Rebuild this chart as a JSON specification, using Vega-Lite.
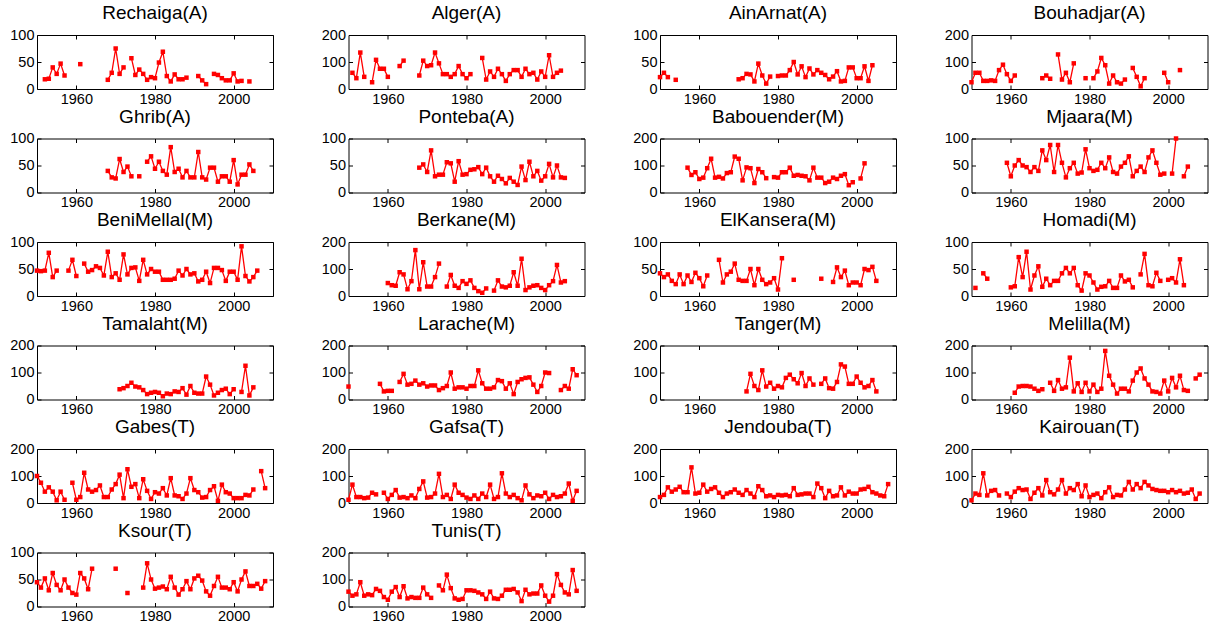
{
"$schema":"https://vega.github.io/schema/vega-lite/v6.json",
"padding":{"left":9,"top":3,"right":0,"bottom":0},
"columns":4,
"spacing":{"row":49.5,"column":75.5},
"bounds":"flush",
"datasets":{
"Rechaiga":[{"yr":1952,"v":18},{"yr":1953,"v":19},{"yr":1954,"v":40},{"yr":1955,"v":28},{"yr":1956,"v":47},{"yr":1957,"v":25},{"yr":1958,"v":null},{"yr":1961,"v":46},{"yr":1962,"v":null},{"yr":1968,"v":17},{"yr":1969,"v":30},{"yr":1970,"v":75},{"yr":1971,"v":28},{"yr":1972,"v":40},{"yr":1973,"v":null},{"yr":1974,"v":57},{"yr":1975,"v":26},{"yr":1976,"v":36},{"yr":1977,"v":28},{"yr":1978,"v":17},{"yr":1979,"v":22},{"yr":1980,"v":20},{"yr":1981,"v":49},{"yr":1982,"v":69},{"yr":1983,"v":24},{"yr":1984,"v":14},{"yr":1985,"v":27},{"yr":1986,"v":18},{"yr":1987,"v":18},{"yr":1988,"v":21},{"yr":1989,"v":null},{"yr":1991,"v":24},{"yr":1992,"v":16},{"yr":1993,"v":9},{"yr":1994,"v":null},{"yr":1995,"v":28},{"yr":1996,"v":26},{"yr":1997,"v":20},{"yr":1998,"v":16},{"yr":1999,"v":16},{"yr":2000,"v":29},{"yr":2001,"v":14},{"yr":2002,"v":15},{"yr":2003,"v":null},{"yr":2004,"v":14}],
"Alger":[{"yr":1951,"v":60},{"yr":1952,"v":40},{"yr":1953,"v":135},{"yr":1954,"v":45},{"yr":1955,"v":null},{"yr":1956,"v":25},{"yr":1957,"v":108},{"yr":1958,"v":75},{"yr":1959,"v":75},{"yr":1960,"v":45},{"yr":1961,"v":null},{"yr":1963,"v":85},{"yr":1964,"v":105},{"yr":1965,"v":null},{"yr":1968,"v":50},{"yr":1969,"v":105},{"yr":1970,"v":85},{"yr":1971,"v":88},{"yr":1972,"v":135},{"yr":1973,"v":95},{"yr":1974,"v":55},{"yr":1975,"v":55},{"yr":1976,"v":45},{"yr":1977,"v":55},{"yr":1978,"v":85},{"yr":1979,"v":55},{"yr":1980,"v":40},{"yr":1981,"v":55},{"yr":1982,"v":null},{"yr":1984,"v":115},{"yr":1985,"v":35},{"yr":1986,"v":65},{"yr":1987,"v":45},{"yr":1988,"v":75},{"yr":1989,"v":55},{"yr":1990,"v":30},{"yr":1991,"v":55},{"yr":1992,"v":70},{"yr":1993,"v":70},{"yr":1994,"v":45},{"yr":1995,"v":75},{"yr":1996,"v":55},{"yr":1997,"v":60},{"yr":1998,"v":35},{"yr":1999,"v":65},{"yr":2000,"v":45},{"yr":2001,"v":125},{"yr":2002,"v":45},{"yr":2003,"v":60},{"yr":2004,"v":68}],
"AinArnat":[{"yr":1950,"v":22},{"yr":1951,"v":30},{"yr":1952,"v":22},{"yr":1953,"v":null},{"yr":1954,"v":17},{"yr":1955,"v":null},{"yr":1970,"v":18},{"yr":1971,"v":20},{"yr":1972,"v":28},{"yr":1973,"v":27},{"yr":1974,"v":14},{"yr":1975,"v":47},{"yr":1976,"v":25},{"yr":1977,"v":10},{"yr":1978,"v":23},{"yr":1979,"v":null},{"yr":1980,"v":24},{"yr":1981,"v":25},{"yr":1982,"v":25},{"yr":1983,"v":35},{"yr":1984,"v":50},{"yr":1985,"v":27},{"yr":1986,"v":42},{"yr":1987,"v":22},{"yr":1988,"v":38},{"yr":1989,"v":27},{"yr":1990,"v":35},{"yr":1991,"v":30},{"yr":1992,"v":26},{"yr":1993,"v":18},{"yr":1994,"v":23},{"yr":1995,"v":33},{"yr":1996,"v":14},{"yr":1997,"v":15},{"yr":1998,"v":40},{"yr":1999,"v":40},{"yr":2000,"v":20},{"yr":2001,"v":20},{"yr":2002,"v":42},{"yr":2003,"v":15},{"yr":2004,"v":44}],
"Bouhadjar":[{"yr":1950,"v":25},{"yr":1951,"v":60},{"yr":1952,"v":60},{"yr":1953,"v":30},{"yr":1954,"v":30},{"yr":1955,"v":32},{"yr":1956,"v":30},{"yr":1957,"v":70},{"yr":1958,"v":90},{"yr":1959,"v":55},{"yr":1960,"v":30},{"yr":1961,"v":50},{"yr":1962,"v":null},{"yr":1968,"v":40},{"yr":1969,"v":50},{"yr":1970,"v":38},{"yr":1971,"v":null},{"yr":1972,"v":128},{"yr":1973,"v":35},{"yr":1974,"v":60},{"yr":1975,"v":25},{"yr":1976,"v":95},{"yr":1977,"v":null},{"yr":1979,"v":40},{"yr":1980,"v":null},{"yr":1981,"v":40},{"yr":1982,"v":65},{"yr":1983,"v":115},{"yr":1984,"v":88},{"yr":1985,"v":20},{"yr":1986,"v":50},{"yr":1987,"v":25},{"yr":1988,"v":20},{"yr":1989,"v":35},{"yr":1990,"v":null},{"yr":1991,"v":78},{"yr":1992,"v":45},{"yr":1993,"v":10},{"yr":1994,"v":40},{"yr":1995,"v":null},{"yr":1999,"v":60},{"yr":2000,"v":25},{"yr":2001,"v":null},{"yr":2003,"v":70}],
"Ghrib":[{"yr":1968,"v":40},{"yr":1969,"v":28},{"yr":1970,"v":26},{"yr":1971,"v":62},{"yr":1972,"v":38},{"yr":1973,"v":48},{"yr":1974,"v":30},{"yr":1975,"v":null},{"yr":1976,"v":30},{"yr":1977,"v":null},{"yr":1978,"v":57},{"yr":1979,"v":67},{"yr":1980,"v":44},{"yr":1981,"v":57},{"yr":1982,"v":40},{"yr":1983,"v":33},{"yr":1984,"v":84},{"yr":1985,"v":38},{"yr":1986,"v":44},{"yr":1987,"v":28},{"yr":1988,"v":40},{"yr":1989,"v":28},{"yr":1990,"v":28},{"yr":1991,"v":75},{"yr":1992,"v":28},{"yr":1993,"v":24},{"yr":1994,"v":46},{"yr":1995,"v":46},{"yr":1996,"v":20},{"yr":1997,"v":30},{"yr":1998,"v":30},{"yr":1999,"v":20},{"yr":2000,"v":60},{"yr":2001,"v":15},{"yr":2002,"v":33},{"yr":2003,"v":33},{"yr":2004,"v":52},{"yr":2005,"v":40}],
"Ponteba":[{"yr":1968,"v":46},{"yr":1969,"v":52},{"yr":1970,"v":38},{"yr":1971,"v":78},{"yr":1972,"v":30},{"yr":1973,"v":33},{"yr":1974,"v":33},{"yr":1975,"v":56},{"yr":1976,"v":54},{"yr":1977,"v":20},{"yr":1978,"v":58},{"yr":1979,"v":33},{"yr":1980,"v":34},{"yr":1981,"v":42},{"yr":1982,"v":43},{"yr":1983,"v":47},{"yr":1984,"v":34},{"yr":1985,"v":46},{"yr":1986,"v":30},{"yr":1987,"v":20},{"yr":1988,"v":31},{"yr":1989,"v":25},{"yr":1990,"v":17},{"yr":1991,"v":27},{"yr":1992,"v":20},{"yr":1993,"v":14},{"yr":1994,"v":48},{"yr":1995,"v":23},{"yr":1996,"v":57},{"yr":1997,"v":30},{"yr":1998,"v":40},{"yr":1999,"v":22},{"yr":2000,"v":30},{"yr":2001,"v":53},{"yr":2002,"v":28},{"yr":2003,"v":50},{"yr":2004,"v":28},{"yr":2005,"v":27}],
"Babouender":[{"yr":1957,"v":92},{"yr":1958,"v":65},{"yr":1959,"v":75},{"yr":1960,"v":50},{"yr":1961,"v":55},{"yr":1962,"v":90},{"yr":1963,"v":125},{"yr":1964,"v":55},{"yr":1965,"v":58},{"yr":1966,"v":52},{"yr":1967,"v":72},{"yr":1968,"v":75},{"yr":1969,"v":133},{"yr":1970,"v":125},{"yr":1971,"v":45},{"yr":1972,"v":93},{"yr":1973,"v":90},{"yr":1974,"v":35},{"yr":1975,"v":87},{"yr":1976,"v":75},{"yr":1977,"v":53},{"yr":1978,"v":null},{"yr":1979,"v":57},{"yr":1980,"v":55},{"yr":1981,"v":75},{"yr":1982,"v":75},{"yr":1983,"v":92},{"yr":1984,"v":62},{"yr":1985,"v":65},{"yr":1986,"v":62},{"yr":1987,"v":60},{"yr":1988,"v":45},{"yr":1989,"v":92},{"yr":1990,"v":55},{"yr":1991,"v":55},{"yr":1992,"v":35},{"yr":1993,"v":40},{"yr":1994,"v":55},{"yr":1995,"v":50},{"yr":1996,"v":62},{"yr":1997,"v":68},{"yr":1998,"v":27},{"yr":1999,"v":38},{"yr":2000,"v":null},{"yr":2001,"v":52},{"yr":2002,"v":108}],
"Mjaara":[{"yr":1959,"v":55},{"yr":1960,"v":30},{"yr":1961,"v":50},{"yr":1962,"v":60},{"yr":1963,"v":50},{"yr":1964,"v":47},{"yr":1965,"v":38},{"yr":1966,"v":47},{"yr":1967,"v":40},{"yr":1968,"v":78},{"yr":1969,"v":60},{"yr":1970,"v":88},{"yr":1971,"v":38},{"yr":1972,"v":88},{"yr":1973,"v":55},{"yr":1974,"v":28},{"yr":1975,"v":45},{"yr":1976,"v":55},{"yr":1977,"v":35},{"yr":1978,"v":37},{"yr":1979,"v":80},{"yr":1980,"v":45},{"yr":1981,"v":40},{"yr":1982,"v":42},{"yr":1983,"v":55},{"yr":1984,"v":45},{"yr":1985,"v":65},{"yr":1986,"v":38},{"yr":1987,"v":35},{"yr":1988,"v":48},{"yr":1989,"v":55},{"yr":1990,"v":67},{"yr":1991,"v":30},{"yr":1992,"v":40},{"yr":1993,"v":48},{"yr":1994,"v":38},{"yr":1995,"v":65},{"yr":1996,"v":78},{"yr":1997,"v":55},{"yr":1998,"v":33},{"yr":1999,"v":35},{"yr":2000,"v":null},{"yr":2001,"v":35},{"yr":2002,"v":100},{"yr":2003,"v":null},{"yr":2004,"v":30},{"yr":2005,"v":48}],
"BeniMellal":[{"yr":1950,"v":47},{"yr":1951,"v":46},{"yr":1952,"v":47},{"yr":1953,"v":80},{"yr":1954,"v":35},{"yr":1955,"v":47},{"yr":1956,"v":null},{"yr":1958,"v":47},{"yr":1959,"v":67},{"yr":1960,"v":37},{"yr":1961,"v":null},{"yr":1962,"v":60},{"yr":1963,"v":45},{"yr":1964,"v":48},{"yr":1965,"v":55},{"yr":1966,"v":52},{"yr":1967,"v":38},{"yr":1968,"v":82},{"yr":1969,"v":35},{"yr":1970,"v":42},{"yr":1971,"v":30},{"yr":1972,"v":77},{"yr":1973,"v":40},{"yr":1974,"v":52},{"yr":1975,"v":53},{"yr":1976,"v":28},{"yr":1977,"v":67},{"yr":1978,"v":40},{"yr":1979,"v":50},{"yr":1980,"v":45},{"yr":1981,"v":45},{"yr":1982,"v":30},{"yr":1983,"v":30},{"yr":1984,"v":30},{"yr":1985,"v":32},{"yr":1986,"v":47},{"yr":1987,"v":38},{"yr":1988,"v":50},{"yr":1989,"v":40},{"yr":1990,"v":42},{"yr":1991,"v":27},{"yr":1992,"v":30},{"yr":1993,"v":45},{"yr":1994,"v":24},{"yr":1995,"v":52},{"yr":1996,"v":52},{"yr":1997,"v":48},{"yr":1998,"v":28},{"yr":1999,"v":45},{"yr":2000,"v":45},{"yr":2001,"v":30},{"yr":2002,"v":92},{"yr":2003,"v":37},{"yr":2004,"v":27},{"yr":2005,"v":35},{"yr":2006,"v":47}],
"Berkane":[{"yr":1960,"v":48},{"yr":1961,"v":40},{"yr":1962,"v":38},{"yr":1963,"v":88},{"yr":1964,"v":80},{"yr":1965,"v":25},{"yr":1966,"v":55},{"yr":1967,"v":170},{"yr":1968,"v":25},{"yr":1969,"v":125},{"yr":1970,"v":35},{"yr":1971,"v":35},{"yr":1972,"v":70},{"yr":1973,"v":120},{"yr":1974,"v":null},{"yr":1975,"v":35},{"yr":1976,"v":78},{"yr":1977,"v":38},{"yr":1978,"v":30},{"yr":1979,"v":55},{"yr":1980,"v":45},{"yr":1981,"v":58},{"yr":1982,"v":30},{"yr":1983,"v":18},{"yr":1984,"v":12},{"yr":1985,"v":28},{"yr":1986,"v":null},{"yr":1987,"v":20},{"yr":1988,"v":58},{"yr":1989,"v":35},{"yr":1990,"v":32},{"yr":1991,"v":38},{"yr":1992,"v":88},{"yr":1993,"v":38},{"yr":1994,"v":138},{"yr":1995,"v":22},{"yr":1996,"v":32},{"yr":1997,"v":38},{"yr":1998,"v":40},{"yr":1999,"v":30},{"yr":2000,"v":22},{"yr":2001,"v":40},{"yr":2002,"v":55},{"yr":2003,"v":115},{"yr":2004,"v":50},{"yr":2005,"v":55}],
"ElKansera":[{"yr":1950,"v":42},{"yr":1951,"v":35},{"yr":1952,"v":40},{"yr":1953,"v":28},{"yr":1954,"v":22},{"yr":1955,"v":40},{"yr":1956,"v":22},{"yr":1957,"v":38},{"yr":1958,"v":26},{"yr":1959,"v":43},{"yr":1960,"v":33},{"yr":1961,"v":18},{"yr":1962,"v":38},{"yr":1963,"v":null},{"yr":1965,"v":67},{"yr":1966,"v":25},{"yr":1967,"v":40},{"yr":1968,"v":45},{"yr":1969,"v":60},{"yr":1970,"v":30},{"yr":1971,"v":28},{"yr":1972,"v":28},{"yr":1973,"v":50},{"yr":1974,"v":20},{"yr":1975,"v":50},{"yr":1976,"v":30},{"yr":1977,"v":22},{"yr":1978,"v":25},{"yr":1979,"v":33},{"yr":1980,"v":12},{"yr":1981,"v":70},{"yr":1982,"v":null},{"yr":1984,"v":30},{"yr":1985,"v":null},{"yr":1991,"v":32},{"yr":1992,"v":null},{"yr":1994,"v":26},{"yr":1995,"v":53},{"yr":1996,"v":35},{"yr":1997,"v":47},{"yr":1998,"v":20},{"yr":1999,"v":25},{"yr":2000,"v":25},{"yr":2001,"v":20},{"yr":2002,"v":50},{"yr":2003,"v":48},{"yr":2004,"v":54},{"yr":2005,"v":28}],
"Homadi":[{"yr":1951,"v":15},{"yr":1952,"v":null},{"yr":1953,"v":42},{"yr":1954,"v":32},{"yr":1955,"v":null},{"yr":1960,"v":16},{"yr":1961,"v":18},{"yr":1962,"v":72},{"yr":1963,"v":35},{"yr":1964,"v":82},{"yr":1965,"v":12},{"yr":1966,"v":38},{"yr":1967,"v":55},{"yr":1968,"v":17},{"yr":1969,"v":32},{"yr":1970,"v":20},{"yr":1971,"v":28},{"yr":1972,"v":28},{"yr":1973,"v":42},{"yr":1974,"v":52},{"yr":1975,"v":42},{"yr":1976,"v":52},{"yr":1977,"v":20},{"yr":1978,"v":10},{"yr":1979,"v":42},{"yr":1980,"v":38},{"yr":1981,"v":25},{"yr":1982,"v":12},{"yr":1983,"v":17},{"yr":1984,"v":18},{"yr":1985,"v":28},{"yr":1986,"v":15},{"yr":1987,"v":15},{"yr":1988,"v":38},{"yr":1989,"v":27},{"yr":1990,"v":30},{"yr":1991,"v":16},{"yr":1992,"v":null},{"yr":1993,"v":40},{"yr":1994,"v":78},{"yr":1995,"v":20},{"yr":1996,"v":18},{"yr":1997,"v":43},{"yr":1998,"v":28},{"yr":1999,"v":null},{"yr":2000,"v":30},{"yr":2001,"v":33},{"yr":2002,"v":25},{"yr":2003,"v":68},{"yr":2004,"v":20}],
"Tamalaht":[{"yr":1971,"v":38},{"yr":1972,"v":42},{"yr":1973,"v":50},{"yr":1974,"v":62},{"yr":1975,"v":48},{"yr":1976,"v":45},{"yr":1977,"v":35},{"yr":1978,"v":20},{"yr":1979,"v":25},{"yr":1980,"v":28},{"yr":1981,"v":25},{"yr":1982,"v":12},{"yr":1983,"v":22},{"yr":1984,"v":20},{"yr":1985,"v":30},{"yr":1986,"v":28},{"yr":1987,"v":42},{"yr":1988,"v":18},{"yr":1989,"v":50},{"yr":1990,"v":25},{"yr":1991,"v":22},{"yr":1992,"v":22},{"yr":1993,"v":85},{"yr":1994,"v":55},{"yr":1995,"v":15},{"yr":1996,"v":25},{"yr":1997,"v":35},{"yr":1998,"v":40},{"yr":1999,"v":20},{"yr":2000,"v":38},{"yr":2001,"v":null},{"yr":2002,"v":28},{"yr":2003,"v":125},{"yr":2004,"v":15},{"yr":2005,"v":45}],
"Larache":[{"yr":1950,"v":48},{"yr":1951,"v":null},{"yr":1958,"v":58},{"yr":1959,"v":30},{"yr":1960,"v":32},{"yr":1961,"v":32},{"yr":1962,"v":null},{"yr":1963,"v":65},{"yr":1964,"v":95},{"yr":1965,"v":55},{"yr":1966,"v":58},{"yr":1967,"v":70},{"yr":1968,"v":55},{"yr":1969,"v":60},{"yr":1970,"v":48},{"yr":1971,"v":52},{"yr":1972,"v":52},{"yr":1973,"v":35},{"yr":1974,"v":42},{"yr":1975,"v":50},{"yr":1976,"v":100},{"yr":1977,"v":40},{"yr":1978,"v":45},{"yr":1979,"v":45},{"yr":1980,"v":40},{"yr":1981,"v":50},{"yr":1982,"v":50},{"yr":1983,"v":108},{"yr":1984,"v":60},{"yr":1985,"v":40},{"yr":1986,"v":40},{"yr":1987,"v":45},{"yr":1988,"v":72},{"yr":1989,"v":68},{"yr":1990,"v":40},{"yr":1991,"v":60},{"yr":1992,"v":20},{"yr":1993,"v":65},{"yr":1994,"v":75},{"yr":1995,"v":80},{"yr":1996,"v":82},{"yr":1997,"v":55},{"yr":1998,"v":28},{"yr":1999,"v":50},{"yr":2000,"v":100},{"yr":2001,"v":98},{"yr":2002,"v":null},{"yr":2004,"v":35},{"yr":2005,"v":50},{"yr":2006,"v":40},{"yr":2007,"v":112},{"yr":2008,"v":90}],
"Tanger":[{"yr":1972,"v":30},{"yr":1973,"v":95},{"yr":1974,"v":50},{"yr":1975,"v":35},{"yr":1976,"v":108},{"yr":1977,"v":48},{"yr":1978,"v":62},{"yr":1979,"v":40},{"yr":1980,"v":50},{"yr":1981,"v":45},{"yr":1982,"v":80},{"yr":1983,"v":92},{"yr":1984,"v":75},{"yr":1985,"v":60},{"yr":1986,"v":98},{"yr":1987,"v":50},{"yr":1988,"v":78},{"yr":1989,"v":55},{"yr":1990,"v":null},{"yr":1991,"v":58},{"yr":1992,"v":78},{"yr":1993,"v":42},{"yr":1994,"v":40},{"yr":1995,"v":65},{"yr":1996,"v":130},{"yr":1997,"v":122},{"yr":1998,"v":58},{"yr":1999,"v":58},{"yr":2000,"v":85},{"yr":2001,"v":62},{"yr":2002,"v":45},{"yr":2003,"v":50},{"yr":2004,"v":72},{"yr":2005,"v":30}],
"Melilla":[{"yr":1961,"v":25},{"yr":1962,"v":48},{"yr":1963,"v":50},{"yr":1964,"v":50},{"yr":1965,"v":48},{"yr":1966,"v":40},{"yr":1967,"v":32},{"yr":1968,"v":38},{"yr":1969,"v":null},{"yr":1970,"v":62},{"yr":1971,"v":32},{"yr":1972,"v":72},{"yr":1973,"v":40},{"yr":1974,"v":45},{"yr":1975,"v":155},{"yr":1976,"v":30},{"yr":1977,"v":60},{"yr":1978,"v":28},{"yr":1979,"v":62},{"yr":1980,"v":30},{"yr":1981,"v":55},{"yr":1982,"v":28},{"yr":1983,"v":40},{"yr":1984,"v":180},{"yr":1985,"v":88},{"yr":1986,"v":55},{"yr":1987,"v":22},{"yr":1988,"v":40},{"yr":1989,"v":40},{"yr":1990,"v":30},{"yr":1991,"v":70},{"yr":1992,"v":100},{"yr":1993,"v":115},{"yr":1994,"v":78},{"yr":1995,"v":55},{"yr":1996,"v":30},{"yr":1997,"v":28},{"yr":1998,"v":22},{"yr":1999,"v":70},{"yr":2000,"v":30},{"yr":2001,"v":80},{"yr":2002,"v":45},{"yr":2003,"v":88},{"yr":2004,"v":35},{"yr":2005,"v":32},{"yr":2006,"v":null},{"yr":2007,"v":78},{"yr":2008,"v":92}],
"Gabes":[{"yr":1950,"v":100},{"yr":1951,"v":75},{"yr":1952,"v":42},{"yr":1953,"v":58},{"yr":1954,"v":42},{"yr":1955,"v":10},{"yr":1956,"v":42},{"yr":1957,"v":12},{"yr":1958,"v":null},{"yr":1959,"v":75},{"yr":1960,"v":12},{"yr":1961,"v":22},{"yr":1962,"v":112},{"yr":1963,"v":50},{"yr":1964,"v":42},{"yr":1965,"v":48},{"yr":1966,"v":65},{"yr":1967,"v":22},{"yr":1968,"v":22},{"yr":1969,"v":50},{"yr":1970,"v":70},{"yr":1971,"v":105},{"yr":1972,"v":18},{"yr":1973,"v":125},{"yr":1974,"v":60},{"yr":1975,"v":70},{"yr":1976,"v":18},{"yr":1977,"v":88},{"yr":1978,"v":45},{"yr":1979,"v":15},{"yr":1980,"v":40},{"yr":1981,"v":35},{"yr":1982,"v":55},{"yr":1983,"v":28},{"yr":1984,"v":92},{"yr":1985,"v":28},{"yr":1986,"v":25},{"yr":1987,"v":15},{"yr":1988,"v":35},{"yr":1989,"v":92},{"yr":1990,"v":48},{"yr":1991,"v":40},{"yr":1992,"v":20},{"yr":1993,"v":22},{"yr":1994,"v":48},{"yr":1995,"v":62},{"yr":1996,"v":8},{"yr":1997,"v":68},{"yr":1998,"v":40},{"yr":1999,"v":35},{"yr":2000,"v":18},{"yr":2001,"v":18},{"yr":2002,"v":18},{"yr":2003,"v":30},{"yr":2004,"v":28},{"yr":2005,"v":50},{"yr":2006,"v":null},{"yr":2007,"v":118},{"yr":2008,"v":55}],
"Gafsa":[{"yr":1950,"v":12},{"yr":1951,"v":68},{"yr":1952,"v":22},{"yr":1953,"v":22},{"yr":1954,"v":18},{"yr":1955,"v":20},{"yr":1956,"v":38},{"yr":1957,"v":32},{"yr":1958,"v":null},{"yr":1959,"v":38},{"yr":1960,"v":15},{"yr":1961,"v":30},{"yr":1962,"v":48},{"yr":1963,"v":20},{"yr":1964,"v":22},{"yr":1965,"v":18},{"yr":1966,"v":28},{"yr":1967,"v":18},{"yr":1968,"v":52},{"yr":1969,"v":80},{"yr":1970,"v":20},{"yr":1971,"v":22},{"yr":1972,"v":35},{"yr":1973,"v":108},{"yr":1974,"v":22},{"yr":1975,"v":30},{"yr":1976,"v":15},{"yr":1977,"v":68},{"yr":1978,"v":38},{"yr":1979,"v":30},{"yr":1980,"v":20},{"yr":1981,"v":15},{"yr":1982,"v":28},{"yr":1983,"v":15},{"yr":1984,"v":35},{"yr":1985,"v":22},{"yr":1986,"v":68},{"yr":1987,"v":15},{"yr":1988,"v":22},{"yr":1989,"v":110},{"yr":1990,"v":35},{"yr":1991,"v":22},{"yr":1992,"v":30},{"yr":1993,"v":18},{"yr":1994,"v":10},{"yr":1995,"v":65},{"yr":1996,"v":32},{"yr":1997,"v":18},{"yr":1998,"v":28},{"yr":1999,"v":25},{"yr":2000,"v":38},{"yr":2001,"v":15},{"yr":2002,"v":30},{"yr":2003,"v":22},{"yr":2004,"v":25},{"yr":2005,"v":35},{"yr":2006,"v":72},{"yr":2007,"v":8},{"yr":2008,"v":45}],
"Jendouba":[{"yr":1950,"v":22},{"yr":1951,"v":30},{"yr":1952,"v":58},{"yr":1953,"v":42},{"yr":1954,"v":50},{"yr":1955,"v":60},{"yr":1956,"v":40},{"yr":1957,"v":40},{"yr":1958,"v":132},{"yr":1959,"v":35},{"yr":1960,"v":38},{"yr":1961,"v":68},{"yr":1962,"v":42},{"yr":1963,"v":52},{"yr":1964,"v":58},{"yr":1965,"v":38},{"yr":1966,"v":22},{"yr":1967,"v":35},{"yr":1968,"v":40},{"yr":1969,"v":50},{"yr":1970,"v":38},{"yr":1971,"v":30},{"yr":1972,"v":48},{"yr":1973,"v":35},{"yr":1974,"v":22},{"yr":1975,"v":62},{"yr":1976,"v":48},{"yr":1977,"v":25},{"yr":1978,"v":28},{"yr":1979,"v":22},{"yr":1980,"v":30},{"yr":1981,"v":28},{"yr":1982,"v":30},{"yr":1983,"v":25},{"yr":1984,"v":55},{"yr":1985,"v":30},{"yr":1986,"v":32},{"yr":1987,"v":35},{"yr":1988,"v":35},{"yr":1989,"v":22},{"yr":1990,"v":72},{"yr":1991,"v":55},{"yr":1992,"v":18},{"yr":1993,"v":45},{"yr":1994,"v":25},{"yr":1995,"v":28},{"yr":1996,"v":58},{"yr":1997,"v":28},{"yr":1998,"v":42},{"yr":1999,"v":35},{"yr":2000,"v":35},{"yr":2001,"v":50},{"yr":2002,"v":52},{"yr":2003,"v":60},{"yr":2004,"v":40},{"yr":2005,"v":35},{"yr":2006,"v":28},{"yr":2007,"v":25},{"yr":2008,"v":70}],
"Kairouan":[{"yr":1950,"v":10},{"yr":1951,"v":35},{"yr":1952,"v":30},{"yr":1953,"v":110},{"yr":1954,"v":28},{"yr":1955,"v":45},{"yr":1956,"v":48},{"yr":1957,"v":28},{"yr":1958,"v":null},{"yr":1959,"v":35},{"yr":1960,"v":22},{"yr":1961,"v":42},{"yr":1962,"v":55},{"yr":1963,"v":48},{"yr":1964,"v":50},{"yr":1965,"v":15},{"yr":1966,"v":38},{"yr":1967,"v":55},{"yr":1968,"v":28},{"yr":1969,"v":85},{"yr":1970,"v":40},{"yr":1971,"v":32},{"yr":1972,"v":50},{"yr":1973,"v":85},{"yr":1974,"v":35},{"yr":1975,"v":55},{"yr":1976,"v":48},{"yr":1977,"v":70},{"yr":1978,"v":25},{"yr":1979,"v":65},{"yr":1980,"v":22},{"yr":1981,"v":30},{"yr":1982,"v":35},{"yr":1983,"v":18},{"yr":1984,"v":40},{"yr":1985,"v":58},{"yr":1986,"v":22},{"yr":1987,"v":30},{"yr":1988,"v":28},{"yr":1989,"v":50},{"yr":1990,"v":78},{"yr":1991,"v":50},{"yr":1992,"v":70},{"yr":1993,"v":55},{"yr":1994,"v":78},{"yr":1995,"v":65},{"yr":1996,"v":52},{"yr":1997,"v":48},{"yr":1998,"v":45},{"yr":1999,"v":45},{"yr":2000,"v":40},{"yr":2001,"v":48},{"yr":2002,"v":40},{"yr":2003,"v":45},{"yr":2004,"v":35},{"yr":2005,"v":38},{"yr":2006,"v":50},{"yr":2007,"v":15},{"yr":2008,"v":35}],
"Ksour":[{"yr":1950,"v":45},{"yr":1951,"v":35},{"yr":1952,"v":52},{"yr":1953,"v":30},{"yr":1954,"v":62},{"yr":1955,"v":40},{"yr":1956,"v":30},{"yr":1957,"v":50},{"yr":1958,"v":35},{"yr":1959,"v":25},{"yr":1960,"v":22},{"yr":1961,"v":62},{"yr":1962,"v":52},{"yr":1963,"v":32},{"yr":1964,"v":70},{"yr":1965,"v":null},{"yr":1970,"v":70},{"yr":1971,"v":null},{"yr":1973,"v":25},{"yr":1974,"v":null},{"yr":1977,"v":35},{"yr":1978,"v":80},{"yr":1979,"v":50},{"yr":1980,"v":33},{"yr":1981,"v":35},{"yr":1982,"v":37},{"yr":1983,"v":32},{"yr":1984,"v":55},{"yr":1985,"v":35},{"yr":1986,"v":22},{"yr":1987,"v":32},{"yr":1988,"v":47},{"yr":1989,"v":32},{"yr":1990,"v":52},{"yr":1991,"v":57},{"yr":1992,"v":48},{"yr":1993,"v":28},{"yr":1994,"v":20},{"yr":1995,"v":38},{"yr":1996,"v":55},{"yr":1997,"v":35},{"yr":1998,"v":35},{"yr":1999,"v":32},{"yr":2000,"v":45},{"yr":2001,"v":28},{"yr":2002,"v":50},{"yr":2003,"v":65},{"yr":2004,"v":38},{"yr":2005,"v":38},{"yr":2006,"v":42},{"yr":2007,"v":33},{"yr":2008,"v":47}],
"Tunis":[{"yr":1950,"v":55},{"yr":1951,"v":40},{"yr":1952,"v":45},{"yr":1953,"v":90},{"yr":1954,"v":40},{"yr":1955,"v":45},{"yr":1956,"v":42},{"yr":1957,"v":65},{"yr":1958,"v":58},{"yr":1959,"v":35},{"yr":1960,"v":25},{"yr":1961,"v":55},{"yr":1962,"v":72},{"yr":1963,"v":35},{"yr":1964,"v":75},{"yr":1965,"v":30},{"yr":1966,"v":35},{"yr":1967,"v":32},{"yr":1968,"v":32},{"yr":1969,"v":70},{"yr":1970,"v":45},{"yr":1971,"v":32},{"yr":1972,"v":null},{"yr":1973,"v":78},{"yr":1974,"v":60},{"yr":1975,"v":118},{"yr":1976,"v":68},{"yr":1977,"v":30},{"yr":1978,"v":25},{"yr":1979,"v":28},{"yr":1980,"v":60},{"yr":1981,"v":60},{"yr":1982,"v":58},{"yr":1983,"v":52},{"yr":1984,"v":45},{"yr":1985,"v":28},{"yr":1986,"v":55},{"yr":1987,"v":30},{"yr":1988,"v":28},{"yr":1989,"v":40},{"yr":1990,"v":62},{"yr":1991,"v":62},{"yr":1992,"v":65},{"yr":1993,"v":52},{"yr":1994,"v":20},{"yr":1995,"v":62},{"yr":1996,"v":45},{"yr":1997,"v":48},{"yr":1998,"v":48},{"yr":1999,"v":78},{"yr":2000,"v":40},{"yr":2001,"v":18},{"yr":2002,"v":40},{"yr":2003,"v":120},{"yr":2004,"v":80},{"yr":2005,"v":52},{"yr":2006,"v":45},{"yr":2007,"v":135},{"yr":2008,"v":58}]
},
"concat":[
{"title":"Rechaiga(A)","data":{"name":"Rechaiga"},"width":236,"height":54,"resolve":{"axis":{"x":"independent","y":"independent"}},"layer":[{"mark":{"type":"line","color":"#ff0000","strokeWidth":1.3,"invalid":"break-paths-filter-domains"},"encoding":{"x":{"field":"yr","type":"quantitative","title":null,"scale":{"domain":[1950,2010]},"axis":{"orient":"bottom","values":[1960,1980,2000],"format":"d"}},"y":{"field":"v","type":"quantitative","title":null,"scale":{"domain":[0,100]},"axis":{"orient":"left","values":[0,50,100]}}}},{"mark":{"type":"square","color":"#ff0000","size":20,"opacity":1},"encoding":{"x":{"field":"yr","type":"quantitative","title":null,"axis":{"orient":"top","values":[1960,1980,2000],"labels":false}},"y":{"field":"v","type":"quantitative","title":null,"axis":{"orient":"right","values":[0,50,100],"labels":false}}}}]},
{"title":"Alger(A)","data":{"name":"Alger"},"width":236,"height":54,"resolve":{"axis":{"x":"independent","y":"independent"}},"layer":[{"mark":{"type":"line","color":"#ff0000","strokeWidth":1.3,"invalid":"break-paths-filter-domains"},"encoding":{"x":{"field":"yr","type":"quantitative","title":null,"scale":{"domain":[1950,2010]},"axis":{"orient":"bottom","values":[1960,1980,2000],"format":"d"}},"y":{"field":"v","type":"quantitative","title":null,"scale":{"domain":[0,200]},"axis":{"orient":"left","values":[0,100,200]}}}},{"mark":{"type":"square","color":"#ff0000","size":20,"opacity":1},"encoding":{"x":{"field":"yr","type":"quantitative","title":null,"axis":{"orient":"top","values":[1960,1980,2000],"labels":false}},"y":{"field":"v","type":"quantitative","title":null,"axis":{"orient":"right","values":[0,100,200],"labels":false}}}}]},
{"title":"AinArnat(A)","data":{"name":"AinArnat"},"width":236,"height":54,"resolve":{"axis":{"x":"independent","y":"independent"}},"layer":[{"mark":{"type":"line","color":"#ff0000","strokeWidth":1.3,"invalid":"break-paths-filter-domains"},"encoding":{"x":{"field":"yr","type":"quantitative","title":null,"scale":{"domain":[1950,2010]},"axis":{"orient":"bottom","values":[1960,1980,2000],"format":"d"}},"y":{"field":"v","type":"quantitative","title":null,"scale":{"domain":[0,100]},"axis":{"orient":"left","values":[0,50,100]}}}},{"mark":{"type":"square","color":"#ff0000","size":20,"opacity":1},"encoding":{"x":{"field":"yr","type":"quantitative","title":null,"axis":{"orient":"top","values":[1960,1980,2000],"labels":false}},"y":{"field":"v","type":"quantitative","title":null,"axis":{"orient":"right","values":[0,50,100],"labels":false}}}}]},
{"title":"Bouhadjar(A)","data":{"name":"Bouhadjar"},"width":236,"height":54,"resolve":{"axis":{"x":"independent","y":"independent"}},"layer":[{"mark":{"type":"line","color":"#ff0000","strokeWidth":1.3,"invalid":"break-paths-filter-domains"},"encoding":{"x":{"field":"yr","type":"quantitative","title":null,"scale":{"domain":[1950,2010]},"axis":{"orient":"bottom","values":[1960,1980,2000],"format":"d"}},"y":{"field":"v","type":"quantitative","title":null,"scale":{"domain":[0,200]},"axis":{"orient":"left","values":[0,100,200]}}}},{"mark":{"type":"square","color":"#ff0000","size":20,"opacity":1},"encoding":{"x":{"field":"yr","type":"quantitative","title":null,"axis":{"orient":"top","values":[1960,1980,2000],"labels":false}},"y":{"field":"v","type":"quantitative","title":null,"axis":{"orient":"right","values":[0,100,200],"labels":false}}}}]},
{"title":"Ghrib(A)","data":{"name":"Ghrib"},"width":236,"height":54,"resolve":{"axis":{"x":"independent","y":"independent"}},"layer":[{"mark":{"type":"line","color":"#ff0000","strokeWidth":1.3,"invalid":"break-paths-filter-domains"},"encoding":{"x":{"field":"yr","type":"quantitative","title":null,"scale":{"domain":[1950,2010]},"axis":{"orient":"bottom","values":[1960,1980,2000],"format":"d"}},"y":{"field":"v","type":"quantitative","title":null,"scale":{"domain":[0,100]},"axis":{"orient":"left","values":[0,50,100]}}}},{"mark":{"type":"square","color":"#ff0000","size":20,"opacity":1},"encoding":{"x":{"field":"yr","type":"quantitative","title":null,"axis":{"orient":"top","values":[1960,1980,2000],"labels":false}},"y":{"field":"v","type":"quantitative","title":null,"axis":{"orient":"right","values":[0,50,100],"labels":false}}}}]},
{"title":"Ponteba(A)","data":{"name":"Ponteba"},"width":236,"height":54,"resolve":{"axis":{"x":"independent","y":"independent"}},"layer":[{"mark":{"type":"line","color":"#ff0000","strokeWidth":1.3,"invalid":"break-paths-filter-domains"},"encoding":{"x":{"field":"yr","type":"quantitative","title":null,"scale":{"domain":[1950,2010]},"axis":{"orient":"bottom","values":[1960,1980,2000],"format":"d"}},"y":{"field":"v","type":"quantitative","title":null,"scale":{"domain":[0,100]},"axis":{"orient":"left","values":[0,50,100]}}}},{"mark":{"type":"square","color":"#ff0000","size":20,"opacity":1},"encoding":{"x":{"field":"yr","type":"quantitative","title":null,"axis":{"orient":"top","values":[1960,1980,2000],"labels":false}},"y":{"field":"v","type":"quantitative","title":null,"axis":{"orient":"right","values":[0,50,100],"labels":false}}}}]},
{"title":"Babouender(M)","data":{"name":"Babouender"},"width":236,"height":54,"resolve":{"axis":{"x":"independent","y":"independent"}},"layer":[{"mark":{"type":"line","color":"#ff0000","strokeWidth":1.3,"invalid":"break-paths-filter-domains"},"encoding":{"x":{"field":"yr","type":"quantitative","title":null,"scale":{"domain":[1950,2010]},"axis":{"orient":"bottom","values":[1960,1980,2000],"format":"d"}},"y":{"field":"v","type":"quantitative","title":null,"scale":{"domain":[0,200]},"axis":{"orient":"left","values":[0,100,200]}}}},{"mark":{"type":"square","color":"#ff0000","size":20,"opacity":1},"encoding":{"x":{"field":"yr","type":"quantitative","title":null,"axis":{"orient":"top","values":[1960,1980,2000],"labels":false}},"y":{"field":"v","type":"quantitative","title":null,"axis":{"orient":"right","values":[0,100,200],"labels":false}}}}]},
{"title":"Mjaara(M)","data":{"name":"Mjaara"},"width":236,"height":54,"resolve":{"axis":{"x":"independent","y":"independent"}},"layer":[{"mark":{"type":"line","color":"#ff0000","strokeWidth":1.3,"invalid":"break-paths-filter-domains"},"encoding":{"x":{"field":"yr","type":"quantitative","title":null,"scale":{"domain":[1950,2010]},"axis":{"orient":"bottom","values":[1960,1980,2000],"format":"d"}},"y":{"field":"v","type":"quantitative","title":null,"scale":{"domain":[0,100]},"axis":{"orient":"left","values":[0,50,100]}}}},{"mark":{"type":"square","color":"#ff0000","size":20,"opacity":1},"encoding":{"x":{"field":"yr","type":"quantitative","title":null,"axis":{"orient":"top","values":[1960,1980,2000],"labels":false}},"y":{"field":"v","type":"quantitative","title":null,"axis":{"orient":"right","values":[0,50,100],"labels":false}}}}]},
{"title":"BeniMellal(M)","data":{"name":"BeniMellal"},"width":236,"height":54,"resolve":{"axis":{"x":"independent","y":"independent"}},"layer":[{"mark":{"type":"line","color":"#ff0000","strokeWidth":1.3,"invalid":"break-paths-filter-domains"},"encoding":{"x":{"field":"yr","type":"quantitative","title":null,"scale":{"domain":[1950,2010]},"axis":{"orient":"bottom","values":[1960,1980,2000],"format":"d"}},"y":{"field":"v","type":"quantitative","title":null,"scale":{"domain":[0,100]},"axis":{"orient":"left","values":[0,50,100]}}}},{"mark":{"type":"square","color":"#ff0000","size":20,"opacity":1},"encoding":{"x":{"field":"yr","type":"quantitative","title":null,"axis":{"orient":"top","values":[1960,1980,2000],"labels":false}},"y":{"field":"v","type":"quantitative","title":null,"axis":{"orient":"right","values":[0,50,100],"labels":false}}}}]},
{"title":"Berkane(M)","data":{"name":"Berkane"},"width":236,"height":54,"resolve":{"axis":{"x":"independent","y":"independent"}},"layer":[{"mark":{"type":"line","color":"#ff0000","strokeWidth":1.3,"invalid":"break-paths-filter-domains"},"encoding":{"x":{"field":"yr","type":"quantitative","title":null,"scale":{"domain":[1950,2010]},"axis":{"orient":"bottom","values":[1960,1980,2000],"format":"d"}},"y":{"field":"v","type":"quantitative","title":null,"scale":{"domain":[0,200]},"axis":{"orient":"left","values":[0,100,200]}}}},{"mark":{"type":"square","color":"#ff0000","size":20,"opacity":1},"encoding":{"x":{"field":"yr","type":"quantitative","title":null,"axis":{"orient":"top","values":[1960,1980,2000],"labels":false}},"y":{"field":"v","type":"quantitative","title":null,"axis":{"orient":"right","values":[0,100,200],"labels":false}}}}]},
{"title":"ElKansera(M)","data":{"name":"ElKansera"},"width":236,"height":54,"resolve":{"axis":{"x":"independent","y":"independent"}},"layer":[{"mark":{"type":"line","color":"#ff0000","strokeWidth":1.3,"invalid":"break-paths-filter-domains"},"encoding":{"x":{"field":"yr","type":"quantitative","title":null,"scale":{"domain":[1950,2010]},"axis":{"orient":"bottom","values":[1960,1980,2000],"format":"d"}},"y":{"field":"v","type":"quantitative","title":null,"scale":{"domain":[0,100]},"axis":{"orient":"left","values":[0,50,100]}}}},{"mark":{"type":"square","color":"#ff0000","size":20,"opacity":1},"encoding":{"x":{"field":"yr","type":"quantitative","title":null,"axis":{"orient":"top","values":[1960,1980,2000],"labels":false}},"y":{"field":"v","type":"quantitative","title":null,"axis":{"orient":"right","values":[0,50,100],"labels":false}}}}]},
{"title":"Homadi(M)","data":{"name":"Homadi"},"width":236,"height":54,"resolve":{"axis":{"x":"independent","y":"independent"}},"layer":[{"mark":{"type":"line","color":"#ff0000","strokeWidth":1.3,"invalid":"break-paths-filter-domains"},"encoding":{"x":{"field":"yr","type":"quantitative","title":null,"scale":{"domain":[1950,2010]},"axis":{"orient":"bottom","values":[1960,1980,2000],"format":"d"}},"y":{"field":"v","type":"quantitative","title":null,"scale":{"domain":[0,100]},"axis":{"orient":"left","values":[0,50,100]}}}},{"mark":{"type":"square","color":"#ff0000","size":20,"opacity":1},"encoding":{"x":{"field":"yr","type":"quantitative","title":null,"axis":{"orient":"top","values":[1960,1980,2000],"labels":false}},"y":{"field":"v","type":"quantitative","title":null,"axis":{"orient":"right","values":[0,50,100],"labels":false}}}}]},
{"title":"Tamalaht(M)","data":{"name":"Tamalaht"},"width":236,"height":54,"resolve":{"axis":{"x":"independent","y":"independent"}},"layer":[{"mark":{"type":"line","color":"#ff0000","strokeWidth":1.3,"invalid":"break-paths-filter-domains"},"encoding":{"x":{"field":"yr","type":"quantitative","title":null,"scale":{"domain":[1950,2010]},"axis":{"orient":"bottom","values":[1960,1980,2000],"format":"d"}},"y":{"field":"v","type":"quantitative","title":null,"scale":{"domain":[0,200]},"axis":{"orient":"left","values":[0,100,200]}}}},{"mark":{"type":"square","color":"#ff0000","size":20,"opacity":1},"encoding":{"x":{"field":"yr","type":"quantitative","title":null,"axis":{"orient":"top","values":[1960,1980,2000],"labels":false}},"y":{"field":"v","type":"quantitative","title":null,"axis":{"orient":"right","values":[0,100,200],"labels":false}}}}]},
{"title":"Larache(M)","data":{"name":"Larache"},"width":236,"height":54,"resolve":{"axis":{"x":"independent","y":"independent"}},"layer":[{"mark":{"type":"line","color":"#ff0000","strokeWidth":1.3,"invalid":"break-paths-filter-domains"},"encoding":{"x":{"field":"yr","type":"quantitative","title":null,"scale":{"domain":[1950,2010]},"axis":{"orient":"bottom","values":[1960,1980,2000],"format":"d"}},"y":{"field":"v","type":"quantitative","title":null,"scale":{"domain":[0,200]},"axis":{"orient":"left","values":[0,100,200]}}}},{"mark":{"type":"square","color":"#ff0000","size":20,"opacity":1},"encoding":{"x":{"field":"yr","type":"quantitative","title":null,"axis":{"orient":"top","values":[1960,1980,2000],"labels":false}},"y":{"field":"v","type":"quantitative","title":null,"axis":{"orient":"right","values":[0,100,200],"labels":false}}}}]},
{"title":"Tanger(M)","data":{"name":"Tanger"},"width":236,"height":54,"resolve":{"axis":{"x":"independent","y":"independent"}},"layer":[{"mark":{"type":"line","color":"#ff0000","strokeWidth":1.3,"invalid":"break-paths-filter-domains"},"encoding":{"x":{"field":"yr","type":"quantitative","title":null,"scale":{"domain":[1950,2010]},"axis":{"orient":"bottom","values":[1960,1980,2000],"format":"d"}},"y":{"field":"v","type":"quantitative","title":null,"scale":{"domain":[0,200]},"axis":{"orient":"left","values":[0,100,200]}}}},{"mark":{"type":"square","color":"#ff0000","size":20,"opacity":1},"encoding":{"x":{"field":"yr","type":"quantitative","title":null,"axis":{"orient":"top","values":[1960,1980,2000],"labels":false}},"y":{"field":"v","type":"quantitative","title":null,"axis":{"orient":"right","values":[0,100,200],"labels":false}}}}]},
{"title":"Melilla(M)","data":{"name":"Melilla"},"width":236,"height":54,"resolve":{"axis":{"x":"independent","y":"independent"}},"layer":[{"mark":{"type":"line","color":"#ff0000","strokeWidth":1.3,"invalid":"break-paths-filter-domains"},"encoding":{"x":{"field":"yr","type":"quantitative","title":null,"scale":{"domain":[1950,2010]},"axis":{"orient":"bottom","values":[1960,1980,2000],"format":"d"}},"y":{"field":"v","type":"quantitative","title":null,"scale":{"domain":[0,200]},"axis":{"orient":"left","values":[0,100,200]}}}},{"mark":{"type":"square","color":"#ff0000","size":20,"opacity":1},"encoding":{"x":{"field":"yr","type":"quantitative","title":null,"axis":{"orient":"top","values":[1960,1980,2000],"labels":false}},"y":{"field":"v","type":"quantitative","title":null,"axis":{"orient":"right","values":[0,100,200],"labels":false}}}}]},
{"title":"Gabes(T)","data":{"name":"Gabes"},"width":236,"height":54,"resolve":{"axis":{"x":"independent","y":"independent"}},"layer":[{"mark":{"type":"line","color":"#ff0000","strokeWidth":1.3,"invalid":"break-paths-filter-domains"},"encoding":{"x":{"field":"yr","type":"quantitative","title":null,"scale":{"domain":[1950,2010]},"axis":{"orient":"bottom","values":[1960,1980,2000],"format":"d"}},"y":{"field":"v","type":"quantitative","title":null,"scale":{"domain":[0,200]},"axis":{"orient":"left","values":[0,100,200]}}}},{"mark":{"type":"square","color":"#ff0000","size":20,"opacity":1},"encoding":{"x":{"field":"yr","type":"quantitative","title":null,"axis":{"orient":"top","values":[1960,1980,2000],"labels":false}},"y":{"field":"v","type":"quantitative","title":null,"axis":{"orient":"right","values":[0,100,200],"labels":false}}}}]},
{"title":"Gafsa(T)","data":{"name":"Gafsa"},"width":236,"height":54,"resolve":{"axis":{"x":"independent","y":"independent"}},"layer":[{"mark":{"type":"line","color":"#ff0000","strokeWidth":1.3,"invalid":"break-paths-filter-domains"},"encoding":{"x":{"field":"yr","type":"quantitative","title":null,"scale":{"domain":[1950,2010]},"axis":{"orient":"bottom","values":[1960,1980,2000],"format":"d"}},"y":{"field":"v","type":"quantitative","title":null,"scale":{"domain":[0,200]},"axis":{"orient":"left","values":[0,100,200]}}}},{"mark":{"type":"square","color":"#ff0000","size":20,"opacity":1},"encoding":{"x":{"field":"yr","type":"quantitative","title":null,"axis":{"orient":"top","values":[1960,1980,2000],"labels":false}},"y":{"field":"v","type":"quantitative","title":null,"axis":{"orient":"right","values":[0,100,200],"labels":false}}}}]},
{"title":"Jendouba(T)","data":{"name":"Jendouba"},"width":236,"height":54,"resolve":{"axis":{"x":"independent","y":"independent"}},"layer":[{"mark":{"type":"line","color":"#ff0000","strokeWidth":1.3,"invalid":"break-paths-filter-domains"},"encoding":{"x":{"field":"yr","type":"quantitative","title":null,"scale":{"domain":[1950,2010]},"axis":{"orient":"bottom","values":[1960,1980,2000],"format":"d"}},"y":{"field":"v","type":"quantitative","title":null,"scale":{"domain":[0,200]},"axis":{"orient":"left","values":[0,100,200]}}}},{"mark":{"type":"square","color":"#ff0000","size":20,"opacity":1},"encoding":{"x":{"field":"yr","type":"quantitative","title":null,"axis":{"orient":"top","values":[1960,1980,2000],"labels":false}},"y":{"field":"v","type":"quantitative","title":null,"axis":{"orient":"right","values":[0,100,200],"labels":false}}}}]},
{"title":"Kairouan(T)","data":{"name":"Kairouan"},"width":236,"height":54,"resolve":{"axis":{"x":"independent","y":"independent"}},"layer":[{"mark":{"type":"line","color":"#ff0000","strokeWidth":1.3,"invalid":"break-paths-filter-domains"},"encoding":{"x":{"field":"yr","type":"quantitative","title":null,"scale":{"domain":[1950,2010]},"axis":{"orient":"bottom","values":[1960,1980,2000],"format":"d"}},"y":{"field":"v","type":"quantitative","title":null,"scale":{"domain":[0,200]},"axis":{"orient":"left","values":[0,100,200]}}}},{"mark":{"type":"square","color":"#ff0000","size":20,"opacity":1},"encoding":{"x":{"field":"yr","type":"quantitative","title":null,"axis":{"orient":"top","values":[1960,1980,2000],"labels":false}},"y":{"field":"v","type":"quantitative","title":null,"axis":{"orient":"right","values":[0,100,200],"labels":false}}}}]},
{"title":"Ksour(T)","data":{"name":"Ksour"},"width":236,"height":54,"resolve":{"axis":{"x":"independent","y":"independent"}},"layer":[{"mark":{"type":"line","color":"#ff0000","strokeWidth":1.3,"invalid":"break-paths-filter-domains"},"encoding":{"x":{"field":"yr","type":"quantitative","title":null,"scale":{"domain":[1950,2010]},"axis":{"orient":"bottom","values":[1960,1980,2000],"format":"d"}},"y":{"field":"v","type":"quantitative","title":null,"scale":{"domain":[0,100]},"axis":{"orient":"left","values":[0,50,100]}}}},{"mark":{"type":"square","color":"#ff0000","size":20,"opacity":1},"encoding":{"x":{"field":"yr","type":"quantitative","title":null,"axis":{"orient":"top","values":[1960,1980,2000],"labels":false}},"y":{"field":"v","type":"quantitative","title":null,"axis":{"orient":"right","values":[0,50,100],"labels":false}}}}]},
{"title":"Tunis(T)","data":{"name":"Tunis"},"width":236,"height":54,"resolve":{"axis":{"x":"independent","y":"independent"}},"layer":[{"mark":{"type":"line","color":"#ff0000","strokeWidth":1.3,"invalid":"break-paths-filter-domains"},"encoding":{"x":{"field":"yr","type":"quantitative","title":null,"scale":{"domain":[1950,2010]},"axis":{"orient":"bottom","values":[1960,1980,2000],"format":"d"}},"y":{"field":"v","type":"quantitative","title":null,"scale":{"domain":[0,200]},"axis":{"orient":"left","values":[0,100,200]}}}},{"mark":{"type":"square","color":"#ff0000","size":20,"opacity":1},"encoding":{"x":{"field":"yr","type":"quantitative","title":null,"axis":{"orient":"top","values":[1960,1980,2000],"labels":false}},"y":{"field":"v","type":"quantitative","title":null,"axis":{"orient":"right","values":[0,100,200],"labels":false}}}}]}
],
"config":{
"background":"#ffffff",
"view":{"stroke":"#000000","strokeWidth":1},
"axis":{"grid":false,"domain":false,"ticks":true,"tickSize":-4,"tickColor":"#000000","tickWidth":1,"labelFont":"Liberation Sans","labelFontSize":14.5,"labelColor":"#000000","labelPadding":7},
"title":{"font":"Liberation Sans","fontSize":19,"fontWeight":"normal","color":"#000000","offset":4,"anchor":"middle"}
}
}
